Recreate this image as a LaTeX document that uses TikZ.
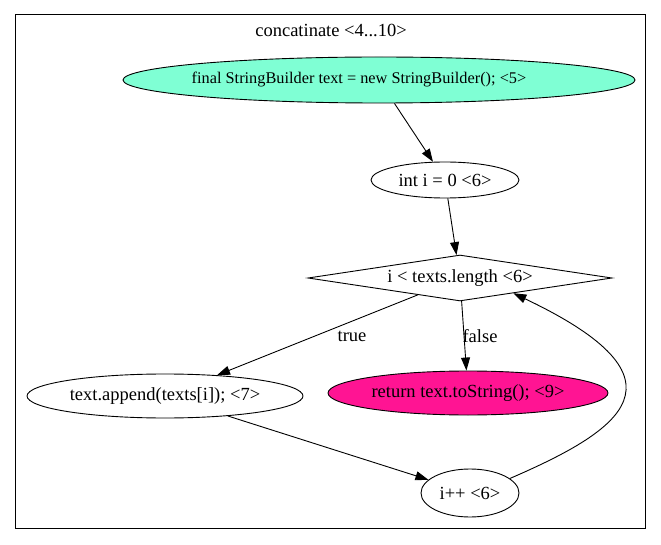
\documentclass[tikz,border=0pt]{standalone}
\usepackage{fontspec}
\setmainfont{Liberation Serif}
\usetikzlibrary{shapes.geometric,arrows.meta,calc}
\definecolor{aqua}{HTML}{7FFFD4}
\definecolor{dpink}{HTML}{FF1493}
\begin{document}
\begin{tikzpicture}[x=1pt,y=-1pt,
  every node/.style={font=\fontsize{18.5}{20}\selectfont},
  ell/.style={ellipse,draw,line width=0.9pt,inner sep=0pt},
  edge/.style={draw,line width=0.9pt,-{Triangle[length=13pt,width=9pt]}},
  lbl/.style={inner sep=0pt}]
\useasboundingbox (0,0) rectangle (661,545);
\draw[line width=1pt] (15,15) rectangle (645,528);
\node[lbl] (title) at (331,30) {concatinate <4...10>};
\node[ell,fill=aqua,minimum width=512pt,minimum height=46pt,font=\fontsize{16.3}{18}\selectfont] (n5) at (379,80) {\hbox to 0pt{\hss final StringBuilder text = new StringBuilder(); <5>\hss}\kern40pt};
\node[ell,minimum width=148pt,minimum height=36pt] (n6) at (445,180) {int i = 0 <6>};
\node[diamond,draw,line width=0.9pt,inner sep=0pt,aspect=6.6,minimum width=304pt,minimum height=46pt] (d) at (460,278) {i < texts.length <6>};
\node[ell,minimum width=276pt,minimum height=44pt] (n7) at (165,396) {text.append(texts[i]); <7>};
\node[ell,fill=dpink,minimum width=280pt,minimum height=44pt] (n9) at (468,393) {return text.toString(); <9>};
\node[ell,minimum width=98pt,minimum height=48pt] (ipp) at (470,493) {i++ <6>};
\coordinate (dret) at ($(d.east)!0.65!(d.south)$);
\path[edge] (n5) -- (n6);
\path[edge] (n6) -- (d);
\path[edge] (d) -- (n7);
\path[edge] (d) -- (n9);
\path[edge] (n7) -- (ipp);
\path[edge] (ipp.20) .. controls (622,430) and (696,380) .. (dret);
\node[lbl] (ltrue) at (352,336) {true};
\node[lbl] (lfalse) at (480,336) {false};
\end{tikzpicture}
\end{document}
